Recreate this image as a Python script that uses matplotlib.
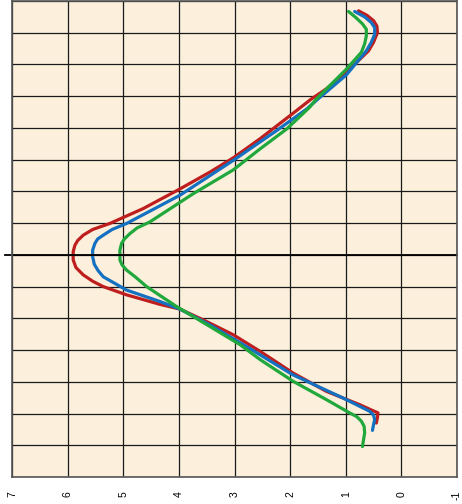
import numpy as np
import matplotlib
matplotlib.use('Agg')
import matplotlib.pyplot as plt

# данные: значение (горизонтальная ось, перевернутая) и позиция по вертикали (сверху вниз)
red_v = [0.77, 0.62, 0.50, 0.44, 0.43, 0.50, 0.59, 0.99, 1.35, 1.62, 2.0, 2.54, 3.02,
         3.44, 4.01, 4.64, 5.24, 5.55, 5.72, 5.82, 5.87, 5.90, 5.90, 5.85, 5.72, 5.55,
         5.36, 4.94, 4.34, 3.98, 3.56, 3.02, 2.54, 1.95, 1.35, 0.75, 0.55, 0.42, 0.43,
         0.45]
red_r = [0.31, 0.45, 0.62, 0.79, 1.0, 1.3, 1.57, 2.25, 2.77, 3.09, 3.61, 4.34, 4.94,
         5.39, 5.95, 6.54, 7.01, 7.2, 7.38, 7.55, 7.70, 7.9, 8.16, 8.4, 8.63, 8.83,
         9.0, 9.26, 9.56, 9.71, 10.05, 10.52, 11.04, 11.72, 12.3, 12.72, 12.88, 12.98,
         13.12, 13.3]

blue_v = [0.84, 0.66, 0.54, 0.48, 0.48, 0.54, 0.63, 0.99, 1.50, 1.70, 2.24, 3.02, 3.98,
          4.94, 5.20, 5.36, 5.46, 5.51, 5.55, 5.55, 5.52, 5.45, 5.36, 5.15, 4.94, 4.34,
          3.98, 3.44, 2.84, 1.95, 1.05, 0.57, 0.50, 0.48, 0.50, 0.52]
blue_r = [0.33, 0.50, 0.68, 0.84, 1.05, 1.3, 1.57, 2.33, 3.09, 3.40, 4.08, 5.02, 6.12,
          7.01, 7.2, 7.38, 7.5, 7.64, 7.85, 8.06, 8.3, 8.5, 8.69, 8.9, 9.11, 9.47,
          9.71, 10.21, 10.83, 11.78, 12.51, 12.93, 13.05, 13.19, 13.35, 13.53]

green_v = [0.95, 0.82, 0.70, 0.63, 0.63, 0.66, 0.72, 0.99, 1.53, 1.65, 2.06, 2.54, 3.02,
           3.74, 4.52, 4.75, 4.88, 4.98, 5.03, 5.06, 5.06, 5.02, 4.94, 4.78, 4.58, 4.04,
           3.44, 2.90, 2.54, 1.95, 1.35, 0.93, 0.80, 0.72, 0.67, 0.66, 0.70]
green_r = [0.33, 0.52, 0.72, 0.89, 1.1, 1.35, 1.62, 2.15, 3.09, 3.35, 4.03, 4.66, 5.32,
           6.07, 6.96, 7.15, 7.33, 7.5, 7.64, 7.85, 8.16, 8.32, 8.48, 8.7, 9.0, 9.63,
           10.26, 10.83, 11.3, 11.98, 12.56, 12.98, 13.1, 13.24, 13.4, 13.61, 14.04]

x_ticks = [7, 6, 5, 4, 3, 2, 1, 0, -1]

fig = plt.figure(figsize=(4.62, 5.04), dpi=100)
ax = fig.add_axes([12 / 462, 27 / 504, 445 / 462, 476 / 504])
ax.set_facecolor('#FCF0DD')

for v, r, c in [(red_v, red_r, '#BE1E1E'), (blue_v, blue_r, '#1470C0'),
                (green_v, green_r, '#20A83C')]:
    ax.plot(v, r, color=c, linewidth=2.3, solid_capstyle='round', solid_joinstyle='round')

ax.set_xlim(7, -1)
ax.set_ylim(15, 0)
ax.set_xticks(x_ticks)
ax.set_xticklabels([str(t) for t in x_ticks], fontfamily='Liberation Sans')
ax.set_yticks(range(0, 16))
ax.set_yticklabels([])
ax.grid(True, color='#1a1a1a', linewidth=0.9)
ax.set_axisbelow(True)
ax.tick_params(axis='both', length=0)
ax.tick_params(axis='x', labelrotation=90, labelsize=7.5, pad=10)
for s in ax.spines.values():
    s.set_color('#555555')
    s.set_linewidth(1.2)

# ось на уровне 8, немного выходит за левый край
ax.axhline(8, xmin=-0.016, xmax=1, color='black', linewidth=1.3, clip_on=False)

plt.savefig('out.png', dpi=100)
